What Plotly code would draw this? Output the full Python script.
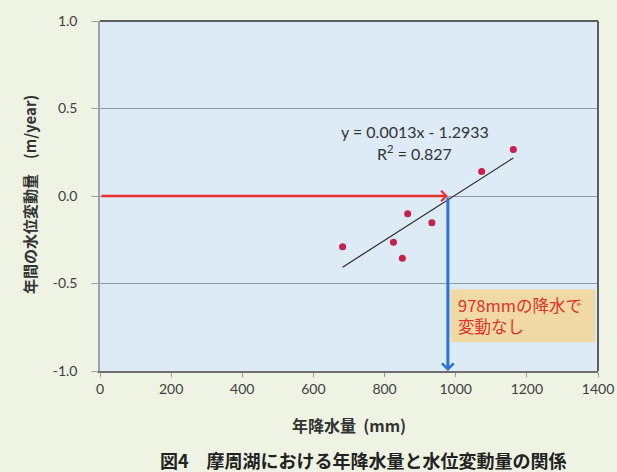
import plotly.graph_objects as go

# Annual precipitation (mm) and annual lake-level change (m/year), Lake Mashu
precip_mm = [682, 825, 850, 865, 933, 1073, 1162]
level_change = [-0.29, -0.264, -0.355, -0.102, -0.153, 0.140, 0.266]

# Linear fit shown on the chart
slope = 0.0013
intercept = -1.2933
r_squared = 0.827

# Precipitation at which the level does not change
zero_change_mm = 978

x_ticks = [0, 200, 400, 600, 800, 1000, 1200, 1400]
y_ticks = [-1.0, -0.5, 0.0, 0.5, 1.0]

num_font = "Lato, 'Open Sans', sans-serif"
jp_font = "'Noto Sans CJK JP', sans-serif"

fit_x = [min(precip_mm), max(precip_mm)]
fit_y = [slope * v + intercept for v in fit_x]

fig = go.Figure()

fig.add_trace(go.Scatter(
    x=fit_x, y=fit_y, mode="lines",
    line=dict(color="#2b2b2b", width=1.2),
    hoverinfo="skip", showlegend=False,
))

fig.add_trace(go.Scatter(
    x=precip_mm, y=level_change, mode="markers",
    marker=dict(color="#c8204a", size=7),
    showlegend=False,
))

# Highlight box for the zero-change note
fig.add_shape(
    type="rect", xref="x", yref="y",
    x0=985, x1=1392, y0=-0.835, y1=-0.533,
    fillcolor="rgba(243,214,150,0.85)", line=dict(width=0), layer="below",
)

annotations = [
    # horizontal red arrow along zero change
    dict(x=zero_change_mm, y=0, ax=0, ay=0, xref="x", yref="y",
         axref="x", ayref="y", showarrow=True, arrowhead=4, arrowsize=0.8,
         arrowwidth=2.5, arrowcolor="#e8302c", text=""),
    # vertical blue arrow down to the precipitation axis
    dict(x=zero_change_mm, y=-1.0, ax=zero_change_mm, ay=0, xref="x", yref="y",
         axref="x", ayref="y", showarrow=True, arrowhead=4, arrowsize=0.75,
         arrowwidth=3, arrowcolor="#2a74d6", text=""),
    dict(x=885, y=0.367, xref="x", yref="y", showarrow=False,
         text=f"y = {slope}x - {abs(intercept)}", xanchor="center",
         font=dict(family=num_font, size=16, color="#333333")),
    dict(x=885, y=0.246, xref="x", yref="y", showarrow=False,
         text=f"R<sup>2</sup> = {r_squared}", xanchor="center",
         font=dict(family=num_font, size=16, color="#333333")),
    dict(x=1000, y=-0.685, xref="x", yref="y", showarrow=False,
         text=f"{zero_change_mm}mmの降水で<br>変動なし", xanchor="left",
         align="left",
         font=dict(family=jp_font, size=16.5, color="#e0302a")),
    dict(x=0.5, y=-0.154, xref="paper", yref="paper", showarrow=False,
         yanchor="middle",
         text="<b>年降水量</b>  <b>(mm)</b>",
         font=dict(family=jp_font, size=16, color="#333333")),
    dict(x=0.53, y=-0.254, xref="paper", yref="paper", showarrow=False,
         yanchor="middle",
         text="<b>図4　摩周湖における年降水量と水位変動量の関係</b>",
         font=dict(family=jp_font, size=18, color="#222222")),
    dict(x=0, y=0.503, xref="paper", yref="paper", showarrow=False,
         textangle=-90, xanchor="center", xshift=-70,
         text="<b>年間の水位変動量</b>　<b>(m/year)</b>",
         font=dict(family=jp_font, size=15, color="#333333")),
]

fig.update_layout(
    width=617, height=472,
    margin=dict(l=100, r=19, t=21, b=101, autoexpand=False),
    paper_bgcolor="#eef3e3",
    plot_bgcolor="#dcebf6",
    annotations=annotations,
    showlegend=False,
)

fig.update_xaxes(
    range=[0, 1400], tickvals=x_ticks, ticktext=[str(v) for v in x_ticks],
    showgrid=False, zeroline=False, automargin=False,
    ticklabeloverflow="allow",
    showline=True, linecolor="#6e6e6e", linewidth=1.5, mirror=False,
    ticks="outside", ticklen=4, tickcolor="#9a9a9a",
    tickfont=dict(family=num_font, size=14, color="#404040"),
)
fig.update_yaxes(
    range=[-1.0, 1.0], tickvals=y_ticks, ticktext=[f"{v:.1f}" for v in y_ticks],
    showgrid=True, gridcolor="#8e9aa0", gridwidth=1, zeroline=False,
    automargin=False,
    showline=True, linecolor="#a0a0a0", linewidth=1.5,
    ticks="outside", ticklen=6, tickcolor="#a0a0a0", ticklabelstandoff=12,
    tickfont=dict(family=num_font, size=14, color="#404040"),
)

# Dark frame on the top and right edges of the plot area
fig.add_shape(type="line", xref="paper", yref="paper", x0=0, x1=1, y0=1, y1=1,
              line=dict(color="#5a5f5f", width=2))
fig.add_shape(type="line", xref="paper", yref="paper", x0=1, x1=1, y0=0, y1=1,
              line=dict(color="#5a5f5f", width=2))

fig.write_html("out.html")
